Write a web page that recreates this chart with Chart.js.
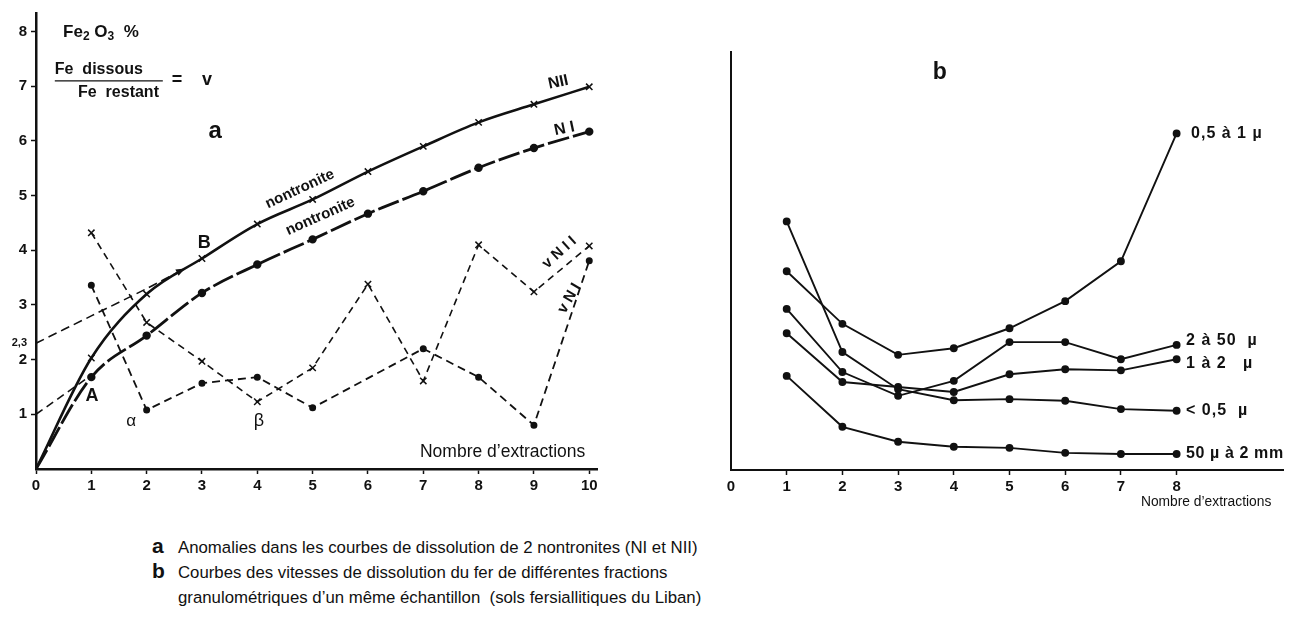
<!DOCTYPE html>
<html>
<head>
<meta charset="utf-8">
<script src="https://cdn.jsdelivr.net/npm/chart.js@4.4.1/dist/chart.umd.min.js"></script>
<style>
  body { margin:0; background:#fff; width:1296px; height:624px; overflow:hidden; position:relative;
         font-family:"Liberation Sans", Arial, sans-serif; color:#111; }
  #wrap-a { position:absolute; left:0; top:0; width:620px; height:520px; }
  #wrap-b { position:absolute; left:620px; top:0; width:676px; height:520px; }
  .cap { position:absolute; left:178px; font-size:16.8px; white-space:nowrap; line-height:20px; }
  .cap b { position:absolute; left:-26px; top:-2px; font-size:21px; }
</style>
</head>
<body>
<div id="wrap-a"><canvas id="chart-a" width="620" height="520"></canvas></div>
<div id="wrap-b"><canvas id="chart-b" width="676" height="520"></canvas></div>

<div class="cap" style="top:538px"><b>a</b>Anomalies dans les courbes de dissolution de 2 nontronites (NI et NII)</div>
<div class="cap" style="top:563px"><b>b</b>Courbes des vitesses de dissolution du fer de différentes fractions</div>
<div class="cap" style="top:588px">granulométriques d’un même échantillon&nbsp; (sols fersiallitiques du Liban)</div>

<script>
'use strict';
const FONT = '"Liberation Sans", Arial, sans-serif';
const INK = '#111';

// --- a : dissolution of 2 nontronites ---
const extractionsA = [0, 1, 2, 3, 4, 5, 6, 7, 8, 9, 10];
const nII  = [0, 2.03, 3.2, 3.85, 4.48, 4.93, 5.44, 5.9, 6.34, 6.67, 6.99];
const nI   = [0, 1.68, 2.44, 3.22, 3.74, 4.2, 4.67, 5.08, 5.51, 5.87, 6.17];
const vNII = [null, 4.32, 2.68, 1.97, 1.23, 1.85, 3.38, 1.61, 4.1, 3.24, 4.08];
const vNI  = [null, 3.36, 1.08, 1.57, 1.68, 1.12, null, 2.2, 1.68, 0.8, 3.81];
// extrapolated dashed lines towards B and A
const toBx = [0, 1, 2, 2.66];
const toBy = [2.3, 2.8, 3.3, 3.65];
const toAx = [0, 0.95];
const toAy = [1.0, 1.68];
const yTicksA = [1, 2, 2.3, 3, 4, 5, 6, 7, 8];

// --- b : dissolution speed by size fraction ---
const extractionsB = [1, 2, 3, 4, 5, 6, 7, 8];
const xTicksB = [0, 1, 2, 3, 4, 5, 6, 7, 8];
const f05to1  = [3.59, 2.64, 2.08, 2.2, 2.56, 3.05, 3.77, 6.08];
const f2to50  = [2.91, 1.77, 1.34, 1.61, 2.31, 2.31, 2.0, 2.26];
const f1to2   = [2.47, 1.59, 1.5, 1.41, 1.73, 1.82, 1.8, 2.0];
const fLt05   = [4.49, 2.13, 1.46, 1.26, 1.28, 1.25, 1.1, 1.07];
const f50to2mm = [1.7, 0.78, 0.51, 0.42, 0.4, 0.31, 0.29, 0.29];

const pts = (xs, ys) => xs.map((x, i) => ({ x, y: ys[i] })).filter(p => p.y !== null);

// text drawn in data coordinates; runs = [[text, font, dy], ...]
const labelsPlugin = {
  id: 'labels',
  afterDatasetsDraw(chart, args, opts) {
    const { ctx, scales: { x, y } } = chart;
    ctx.save();
    ctx.fillStyle = INK;
    ctx.strokeStyle = INK;
    ctx.textBaseline = 'middle';
    for (const l of opts.items || []) {
      ctx.save();
      ctx.translate(x.getPixelForValue(l.x), y.getPixelForValue(l.y));
      if (l.rot) ctx.rotate(l.rot * Math.PI / 180);
      ctx.letterSpacing = l.sp || '0px';
      if (l.runs) {
        let cx = 0;
        ctx.textAlign = 'left';
        for (const [t, f, dy] of l.runs) {
          ctx.font = f;
          ctx.fillText(t, cx, dy || 0);
          cx += ctx.measureText(t).width;
        }
      } else {
        ctx.font = l.font;
        ctx.textAlign = l.align || 'center';
        ctx.fillText(l.text, 0, 0);
      }
      if (l.bar) {
        ctx.lineWidth = 1.4;
        ctx.beginPath();
        ctx.moveTo(0, l.bar[0]);
        ctx.lineTo(l.bar[1], l.bar[0]);
        ctx.stroke();
      }
      ctx.restore();
    }
    // arrow head at the end of the dashed line towards B
    if (opts.arrow !== undefined) {
      const data = chart.getDatasetMeta(opts.arrow).data;
      const p1 = data[data.length - 2], p2 = data[data.length - 1];
      const a = Math.atan2(p2.y - p1.y, p2.x - p1.x);
      ctx.translate(p2.x, p2.y);
      ctx.rotate(a);
      ctx.beginPath();
      ctx.moveTo(2, 0); ctx.lineTo(-7, -3.5); ctx.lineTo(-7, 3.5); ctx.closePath();
      ctx.fill();
    }
    ctx.restore();
  }
};

const axisGrid = { display: true, drawOnChartArea: false, drawTicks: true, tickLength: 5, tickWidth: 1.5, tickColor: INK };
const TICKFONT = { family: FONT, size: 15, weight: 'bold' };

new Chart(document.getElementById('chart-a'), {
  type: 'line',
  data: {
    datasets: [
      { data: pts(extractionsA, nII), borderColor: INK, borderWidth: 2.6, cubicInterpolationMode: 'monotone',
        pointStyle: 'crossRot', pointRadius: ctx => ctx.dataIndex === 0 ? 0 : 4.5, pointBorderWidth: 1.5,
        pointBorderColor: INK },
      { data: pts(extractionsA, nI), borderColor: INK, borderWidth: 2.8, cubicInterpolationMode: 'monotone',
        borderDash: [22, 4], pointRadius: ctx => ctx.dataIndex === 0 ? 0 : 2.8, pointBackgroundColor: INK,
        pointBorderColor: INK },
      { data: pts(extractionsA, vNII), borderColor: INK, borderWidth: 1.6, borderDash: [7, 5], tension: 0,
        pointStyle: 'crossRot', pointRadius: 4.5, pointBorderWidth: 1.5, pointBorderColor: INK },
      { data: pts(extractionsA, vNI), borderColor: INK, borderWidth: 1.8, borderDash: [8, 5], tension: 0,
        pointRadius: 2.6, pointBackgroundColor: INK, pointBorderColor: INK },
      { data: pts(toBx, toBy), borderColor: INK, borderWidth: 1.6, borderDash: [9, 5], tension: 0.3, pointRadius: 0 },
      { data: pts(toAx, toAy), borderColor: INK, borderWidth: 1.6, borderDash: [8, 5], pointRadius: 0 },
    ],
  },
  options: {
    responsive: false, animation: false, devicePixelRatio: 1,
    layout: { padding: { top: 8, right: 23, left: 0, bottom: 0 } },
    plugins: {
      legend: { display: false }, tooltip: { enabled: false },
      labels: {
        arrow: 4,
        items: [
          { x: 0.49, y: 7.99, runs: [['Fe', `bold 17px ${FONT}`], ['2', `bold 12px ${FONT}`, 5], [' O', `bold 17px ${FONT}`],
                                     ['3', `bold 12px ${FONT}`, 5], ['  %', `bold 17px ${FONT}`]] },
          { x: 0.34, y: 7.3, text: 'Fe  dissous', font: `bold 16px ${FONT}`, align: 'left', bar: [11, 108] },
          { x: 0.76, y: 6.89, text: 'Fe  restant', font: `bold 16px ${FONT}`, align: 'left' },
          { x: 2.55, y: 7.12, text: '=', font: `bold 18px ${FONT}` },
          { x: 3.09, y: 7.12, text: 'v', font: `bold 18px ${FONT}` },
          { x: 3.24, y: 6.17, text: 'a', font: `bold 24px ${FONT}` },
          { x: 3.04, y: 4.14, text: 'B', font: `bold 18px ${FONT}` },
          { x: 1.01, y: 1.34, text: 'A', font: `bold 18px ${FONT}` },
          { x: 1.72, y: 0.87, text: 'α', font: `17px ${FONT}` },
          { x: 4.03, y: 0.87, text: 'β', font: `18px ${FONT}` },
          { x: 4.77, y: 5.12, text: 'nontronite', font: `bold 15px ${FONT}`, rot: -25 },
          { x: 5.14, y: 4.62, text: 'nontronite', font: `bold 15px ${FONT}`, rot: -24 },
          { x: 9.44, y: 7.07, text: 'NII', font: `bold 16px ${FONT}`, rot: -12 },
          { x: 9.55, y: 6.22, text: 'N I', font: `bold 16px ${FONT}`, rot: -12 },
          { x: 9.46, y: 3.96, text: 'v N I I', font: `bold 15px ${FONT}`, rot: -42 },
          { x: 9.64, y: 3.12, text: 'v N I', font: `bold 15px ${FONT}`, rot: -60 },
          { x: 6.94, y: 0.31, text: 'Nombre d’extractions', font: `17.5px ${FONT}`, align: 'left' },
        ],
      },
    },
    scales: {
      x: {
        type: 'linear', min: 0, max: 10.14,
        afterBuildTicks: s => { s.ticks = extractionsA.map(v => ({ value: v })); },
        afterFit: s => { s.height = 51; },
        border: { display: true, color: INK, width: 2.5 },
        grid: axisGrid,
        ticks: { color: INK, font: TICKFONT, padding: 3, maxRotation: 0, autoSkip: false },
      },
      y: {
        type: 'linear', min: 0, max: 8.34,
        afterBuildTicks: s => { s.ticks = yTicksA.map(v => ({ value: v })); },
        afterFit: s => { s.width = 36; },
        border: { display: true, color: INK, width: 2.5 },
        grid: { ...axisGrid, tickColor: c => (c.tick && c.tick.value === 2.3) ? 'rgba(0,0,0,0)' : INK },
        ticks: {
          color: INK, padding: 4, autoSkip: false,
          font: c => ({ family: FONT, size: (c.tick && c.tick.value === 2.3) ? 11 : 15, weight: 'bold' }),
          callback: v => v === 2.3 ? '2,3' : v,
        },
      },
    },
  },
  plugins: [labelsPlugin],
});

const fracLine = vals => ({
  data: pts(extractionsB, vals), borderColor: INK, borderWidth: 1.9, tension: 0,
  pointRadius: 3, pointBackgroundColor: INK, pointBorderColor: INK,
});
const L16 = `bold 16px ${FONT}`;

new Chart(document.getElementById('chart-b'), {
  type: 'line',
  data: { datasets: [fracLine(f05to1), fracLine(f2to50), fracLine(f1to2), fracLine(fLt05), fracLine(f50to2mm)] },
  options: {
    responsive: false, animation: false, devicePixelRatio: 1,
    layout: { padding: { top: 52, right: 13, left: 0, bottom: 0 } },
    plugins: {
      legend: { display: false }, tooltip: { enabled: false },
      labels: {
        items: [
          { x: 3.75, y: 7.17, text: 'b', font: `bold 23px ${FONT}` },
          { x: 8.26, y: 6.08, text: '0,5 à 1 µ', font: L16, align: 'left', sp: '1px' },
          { x: 8.17, y: 2.33, text: '2 à 50  µ', font: L16, align: 'left', sp: '1px' },
          { x: 8.17, y: 1.93, text: '1 à 2   µ', font: L16, align: 'left', sp: '1px' },
          { x: 8.17, y: 1.07, text: '< 0,5  µ', font: L16, align: 'left', sp: '1px' },
          { x: 8.17, y: 0.29, text: '50 µ à 2 mm', font: L16, align: 'left', sp: '0.6px' },
          { x: 7.36, y: -0.58, text: 'Nombre d’extractions', font: `13.8px ${FONT}`, align: 'left' },
        ],
      },
    },
    scales: {
      x: {
        type: 'linear', min: 0, max: 9.91,
        afterBuildTicks: s => { s.ticks = xTicksB.map(v => ({ value: v })); },
        afterFit: s => { s.height = 50; },
        border: { display: true, color: INK, width: 2 },
        grid: { ...axisGrid, tickColor: c => (c.tick && c.tick.value === 0) ? 'rgba(0,0,0,0)' : INK },
        ticks: { color: INK, font: TICKFONT, padding: 3, maxRotation: 0, autoSkip: false },
      },
      y: {
        type: 'linear', min: 0, max: 7.55,
        afterFit: s => { s.width = 111; },
        border: { display: true, color: INK, width: 2 },
        grid: { display: false },
        ticks: { display: false },
      },
    },
  },
  plugins: [labelsPlugin],
});
</script>
</body>
</html>
